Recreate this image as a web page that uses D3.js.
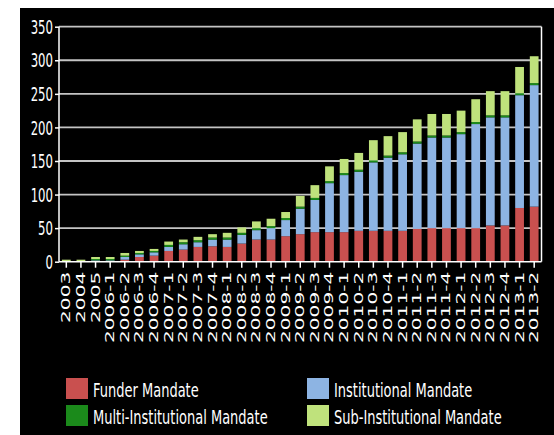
<!DOCTYPE html>
<html><head><meta charset="utf-8">
<script src="https://cdn.jsdelivr.net/npm/d3@7"></script>
<style>html,body{margin:0;padding:0;background:#fff;}svg{display:block;}</style>
</head><body>
<svg id="c" width="554" height="435"></svg>
<script>
const categories = ["2003","2004","2005","2006-1","2006-2","2006-3","2006-4","2007-1","2007-2","2007-3","2007-4","2008-1","2008-2","2008-3","2008-4","2009-1","2009-2","2009-3","2009-4","2010-1","2010-2","2010-3","2010-4","2011-1","2011-2","2011-3","2011-4","2012-1","2012-2","2012-3","2012-4","2013-1","2013-2"];
const funder        = [0,0,1,1,3,7,9,16,18,22,23,22,27,33,33,38,41,44,44,44,46,46,46,46,49,50,50,50,50,54,54,80,82];
const institutional = [1,1,1,1,4,4,5,6,8,7,10,11,13,14,17,24,38,48,73,85,88,102,109,114,127,135,135,140,155,161,161,168,181];
const multiInst     = [0,0,2,2,2,2,2,3,3,3,3,3,3,3,3,3,3,3,3,3,3,3,3,3,3,3,3,3,3,3,3,3,3];
const subInst       = [2,2,3,3,4,3,3,5,4,5,5,7,8,10,11,9,16,19,22,21,25,30,29,30,33,32,32,32,34,36,36,39,40];
const seriesNames   = ["Funder Mandate","Institutional Mandate","Multi-Institutional Mandate","Sub-Institutional Mandate"];
const seriesColors  = ["#c9504f","#8db4e3","#1b8a1b","#bfe27c"];
const yTicks        = [0,50,100,150,200,250,300,350];

const svg = d3.select("#c");
svg.append("rect").attr("x",20).attr("y",8).attr("width",534).attr("height",427).attr("fill","#000");

const L = 59, R = 541.5, T = 26.7, B = 261.7;
const x = d3.scaleBand().domain(categories).range([L,R]).paddingInner(0.4).paddingOuter(0.2);
const y = d3.scaleLinear().domain([0,350]).range([B,T]);

const keys = ["f","i","m","s"];
const rows = categories.map((c,k)=>({cat:c,f:funder[k],i:institutional[k],m:multiInst[k],s:subInst[k]}));
const stacked = d3.stack().keys(keys)(rows);

// gridlines
svg.append("g").selectAll("line").data(yTicks.filter(v=>v>0)).join("line")
  .attr("x1",L).attr("x2",R).attr("y1",d=>y(d)).attr("y2",d=>y(d))
  .attr("stroke","#c4c4c4").attr("stroke-width",1.8);

// bars
svg.append("g").selectAll("g").data(stacked).join("g")
  .attr("fill",(d,k)=>seriesColors[k])
  .selectAll("rect").data(d=>d).join("rect")
  .attr("x",d=>x(d.data.cat)).attr("width",x.bandwidth())
  .attr("y",d=>y(d[1])).attr("height",d=>Math.max(0,y(d[0])-y(d[1])));

// frame lines
svg.append("line").attr("x1",L).attr("x2",L).attr("y1",T).attr("y2",B).attr("stroke","#fff").attr("stroke-width",1.5);
svg.append("line").attr("x1",R).attr("x2",R).attr("y1",T).attr("y2",B).attr("stroke","#fff").attr("stroke-width",1.5);
svg.append("line").attr("x1",L).attr("x2",R).attr("y1",B).attr("y2",B).attr("stroke","#fff").attr("stroke-width",1.5);

// y axis
const yAxis = svg.append("g").attr("transform",`translate(${L},0)`)
  .call(d3.axisLeft(y).tickValues(yTicks).tickSize(4).tickPadding(0).tickFormat(d3.format("d")));
yAxis.select(".domain").remove();
yAxis.selectAll(".tick line").attr("stroke","#fff").attr("stroke-width",1.5);
yAxis.selectAll(".tick text").attr("fill","#fff").attr("font-family","DejaVu Sans").attr("font-size",11.7)
  .attr("x",null).attr("dy",null)
  .attr("transform","translate(-6,0) scale(1,1.65)")
  .attr("dominant-baseline","central").attr("text-anchor","end");

// x axis
const xAxis = svg.append("g").attr("transform",`translate(0,${B})`)
  .call(d3.axisBottom(x).tickSize(6).tickPadding(0));
xAxis.select(".domain").remove();
xAxis.selectAll(".tick line").attr("stroke","#fff").attr("stroke-width",1.5);
xAxis.selectAll(".tick text").attr("fill","#fff").attr("font-family","DejaVu Sans").attr("font-size",12)
  .attr("y",null).attr("dy",null)
  .attr("transform","translate(0,10) rotate(-90) scale(1.68,1)")
  .attr("dominant-baseline","central").attr("text-anchor","end");

// legend
const legPos = [[66,378],[307,378],[66,405],[307,405]];
const leg = svg.append("g").selectAll("g").data(seriesNames).join("g")
  .attr("transform",(d,k)=>`translate(${legPos[k][0]},${legPos[k][1]})`);
leg.append("rect").attr("width",22).attr("height",21).attr("fill",(d,k)=>seriesColors[k]);
leg.append("text").text(d=>d).attr("fill","#fff").attr("font-family","DejaVu Sans").attr("font-size",13)
  .attr("transform","translate(27,18.5) scale(1,1.45)");
</script>
</body></html>
